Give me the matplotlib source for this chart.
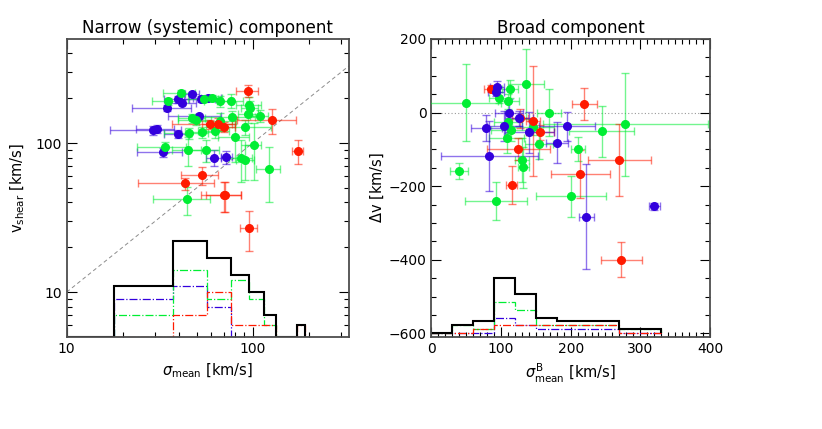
import numpy as np
import matplotlib
matplotlib.use("Agg")
import matplotlib.pyplot as plt
from matplotlib.ticker import FixedLocator, NullFormatter, MultipleLocator

# ---- narrow component: sigma_mean vs v_shear ----
nr_x = [94.4, 127, 58.9, 65.3, 70.3, 174.6, 53.4, 43.3, 70.0, 71.5, 95.5]
nr_y = [225, 143, 133.6, 135, 128.7, 88.7, 60.7, 53.6, 44.7, 44.7, 26.9]
nr_xe = [13, 45, 22, 12, 10, 12, 12, 19, 17, 15, 10]
nr_ye = [20, 27, 10, 12, 10, 16, 8, 5, 10, 10, 8]

nb_x = [47.3, 39.5, 41.9, 34.5, 52.8, 57.6, 51.3, 29.0, 30.7, 39.5, 32.8, 62.0, 72.4]
nb_y = [214, 197, 187, 173, 198, 202, 152, 122, 125, 115, 87, 80, 81]
nb_xe = [4, 6, 8, 12, 10, 10, 16, 12, 7, 6, 9, 6, 5]
nb_ye = [8, 10, 8, 8, 8, 8, 6, 8, 8, 6, 6, 10, 8]

ng_x = [41, 34.9, 55, 60.7, 66.7, 76.7, 96, 97, 95, 109, 77.5, 47.5, 49.9, 91.2,
        63, 53.5, 45.3, 80.5, 101.6, 33.8, 45, 56, 87, 91.2, 122, 44.2, 66.5]
ng_y = [216, 191, 198, 201, 191, 193, 180, 173, 157, 153, 150, 147, 143, 128,
        120, 119, 117, 110, 97, 94, 90, 90, 80, 77, 67, 42, 140]
ng_xe = [8, 6, 10, 8, 12, 12, 15, 10, 12, 12, 25, 8, 10, 35,
         12, 10, 12, 15, 10, 10, 8, 10, 12, 10, 18, 15, 15]
ng_ye = [10, 10, 8, 8, 15, 20, 25, 20, 20, 15, 15, 10, 10, 15,
         12, 10, 10, 35, 40, 8, 20, 15, 25, 20, 27, 9, 20]

# histogram of sigma_mean (counts, drawn on top of baseline 5)
n_hist_lo, n_hist_w = 17.9, 19.4
n_hist_tot = [6, 17, 12, 8, 5, 2, 0, 0, 1]
n_hist_blue = [4, 6, 3, 0, 0, 0, 0, 0, 0]
n_hist_green = [2, 9, 4, 7, 4, 1, 0, 0, 0]
n_hist_red = [0, 2, 5, 1, 1, 1, 0, 0, 1]

# ---- broad component: sigma^B_mean vs delta v ----
br_x = [85, 219.6, 146.4, 125, 156, 127.3, 115.4, 213.9, 270, 273]
br_y = [65, 24, -22.5, -100, -54, -16, -197, -166, -128, -400]
br_xe = [9, 18, 10, 45, 20, 12, 8, 42, 45, 29]
br_ye = [10, 43, 150, 30, 20, 25, 52, 65, 98, 48]

bb_x = [94.7, 92.9, 112, 126.3, 79, 104.8, 140.7, 194.3, 180.9, 83.3, 222.5, 320]
bb_y = [69.7, 56, -2, -16, -41, -37, -54, -37.5, -82, -119, -283, -255]
bb_xe = [10, 12, 20, 20, 22, 25, 35, 40, 16, 70, 11, 8]
bb_ye = [15, 12, 40, 20, 35, 40, 55, 40, 56, 95, 142, 10]

bg_x = [49.4, 97.6, 113, 135.5, 169, 110.5, 244.6, 278.5, 210.6, 108, 155, 130.6,
        132, 40.2, 200.5, 92.9, 115, 146, 110]
bg_y = [26.8, 40, 64, 77.6, 0, 31, -51, -31.4, -99, -70, -85, -130,
        -149, -158, -228, -241, -47, -40, -25]
bg_xe = [51, 15, 12, 26, 17, 15, 47, 118, 10, 25, 20, 10,
         8, 13, 50, 45, 30, 30, 20]
bg_ye = [105, 15, 25, 95, 65, 20, 70, 140, 33, 40, 40, 60,
         55, 22, 55, 52, 30, 20, 30]

# histogram of sigma^B_mean (counts, scaled and stacked on baseline -600)
b_hist_w = 30
b_hist_scale = 10.7
b_hist_tot = [0, 2, 3, 14, 10, 4, 3, 3, 3, 1, 1]
b_hist_blue = [0, 0, 0, 4, 2, 1, 1, 1, 1, 0, 0]
b_hist_green = [0, 2, 1, 8, 6, 2, 2, 2, 2, 1, 1]
b_hist_red = [0, 0, 1, 2, 2, 2, 2, 2, 2, 0, 0]

RED = "#ff1a00"
GREEN = "#00ee33"
BLUE = "#3300dd"

plt.rcParams["font.family"] = "DejaVu Sans"
plt.rcParams["font.size"] = 10

fig = plt.figure(figsize=(8.22, 4.29), dpi=100)
ax1 = fig.add_axes([0.0811, 0.2145, 0.3434, 0.6946])
ax2 = fig.add_axes([0.5247, 0.2145, 0.3390, 0.6946])


def points(ax, x, y, xe, ye, col):
    ax.errorbar(x, y, xerr=xe, yerr=ye, fmt="o", ms=5.5, color=col,
                ecolor=matplotlib.colors.to_rgba(col, 0.55), elinewidth=1.0,
                capsize=3, capthick=1.0, zorder=3)


# left panel
ax1.set_xscale("log")
ax1.set_yscale("log")
ax1.plot([10, 330], [10, 330], ls=(0, (4, 3)), color="0.55", lw=0.7, zorder=1)
points(ax1, nb_x, nb_y, nb_xe, nb_ye, BLUE)
points(ax1, ng_x, ng_y, ng_xe, ng_ye, GREEN)
points(ax1, nr_x, nr_y, nr_xe, nr_ye, RED)

n_edges = n_hist_lo + n_hist_w * np.arange(len(n_hist_tot) + 1)
for vals, col, ls, lw in [(n_hist_blue, BLUE, "-.", 0.9), (n_hist_green, GREEN, "-.", 0.9),
                          (n_hist_red, RED, "-.", 0.9), (n_hist_tot, "black", "-", 1.5)]:
    ax1.stairs(np.array(vals) + 5, n_edges, baseline=5, color=col, ls=ls, lw=lw, zorder=2)
ax1.plot([10, n_edges[0]], [5, 5], color="black", lw=1.5)

ax1.set_xlim(10, 330)
ax1.set_ylim(5, 500)
ax1.xaxis.set_major_locator(FixedLocator([10, 100]))
ax1.xaxis.set_minor_locator(FixedLocator([20, 30, 40, 50, 60, 70, 80, 90, 200, 300]))
ax1.yaxis.set_major_locator(FixedLocator([10, 100]))
ax1.yaxis.set_minor_locator(FixedLocator([6, 7, 8, 9, 20, 30, 40, 50, 60, 70, 80, 90, 200, 300, 400]))
ax1.set_xticklabels(["10", "100"])
ax1.set_yticklabels(["10", "100"])
ax1.xaxis.set_minor_formatter(NullFormatter())
ax1.yaxis.set_minor_formatter(NullFormatter())
ax1.set_title("Narrow (systemic) component", fontsize=12, pad=4)
ax1.set_xlabel(r"$\sigma_{\rm mean}$ [km/s]", fontsize=10.5, labelpad=4)
ax1.set_ylabel(r"v$_{\rm shear}$ [km/s]", fontsize=10.5, labelpad=6)

# right panel
ax2.axhline(0, ls=(0, (1, 2)), color="0.6", lw=0.8, zorder=1)
points(ax2, bg_x, bg_y, bg_xe, bg_ye, GREEN)
points(ax2, br_x, br_y, br_xe, br_ye, RED)
points(ax2, bb_x, bb_y, bb_xe, bb_ye, BLUE)

b_edges = b_hist_w * np.arange(len(b_hist_tot) + 1)
for vals, col, ls, lw in [(b_hist_blue, BLUE, "-.", 0.9), (b_hist_green, GREEN, "-.", 0.9),
                          (b_hist_red, RED, "-.", 0.9), (b_hist_tot, "black", "-", 1.5)]:
    ax2.stairs(-600 + b_hist_scale * np.array(vals), b_edges, baseline=-600,
               color=col, ls=ls, lw=lw, zorder=2)

ax2.set_xlim(0, 400)
ax2.set_ylim(-610, 200)
ax2.xaxis.set_major_locator(MultipleLocator(100))
ax2.xaxis.set_minor_locator(MultipleLocator(10))
ax2.yaxis.set_major_locator(MultipleLocator(200))
ax2.yaxis.set_minor_locator(MultipleLocator(50))
ax2.set_yticks([-600, -400, -200, 0, 200])
ax2.set_yticklabels(["\u2212600", "\u2212400", "\u2212200", "0", "200"])
ax2.set_title("Broad component", fontsize=12, pad=4)
ax2.set_xlabel(r"$\sigma^{\rm B}_{\rm mean}$ [km/s]", fontsize=10.5, labelpad=4)
ax2.set_ylabel(r"$\Delta$v [km/s]", fontsize=10.5, labelpad=2)

for ax in (ax1, ax2):
    ax.tick_params(which="both", direction="in", top=True, right=True, labelsize=10, colors="black")
    ax.tick_params(which="major", length=7, width=0.8)
    ax.tick_params(which="minor", length=3.5, width=0.8)
    for s in ax.spines.values():
        s.set_linewidth(1.3)
        s.set_color("0.3")

fig.savefig("out.png", dpi=100)
